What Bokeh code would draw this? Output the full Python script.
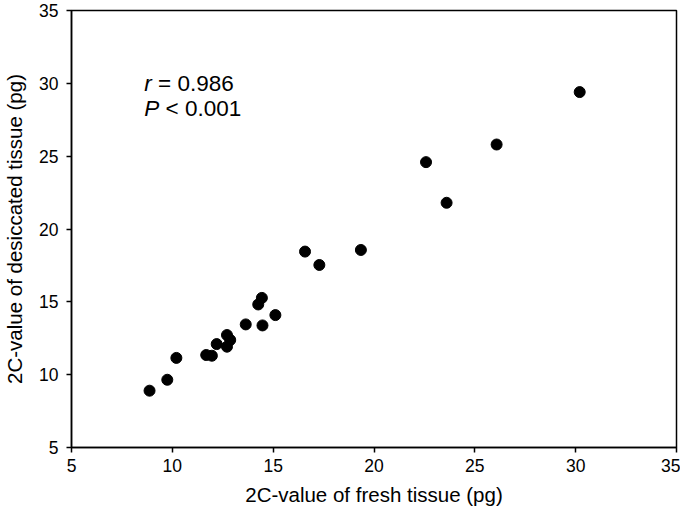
from bokeh.plotting import figure
from bokeh.models import ColumnDataSource, Range1d, FixedTicker
from bokeh.core.properties import value
from bokeh.embed import file_html
from bokeh.resources import INLINE

fresh = [8.87, 9.75, 10.2, 11.68, 11.96, 12.2, 12.71, 12.87, 12.71, 13.64,
         14.26, 14.44, 14.47, 15.11, 16.58, 17.29, 19.35, 22.58, 23.6, 26.08, 30.2]
desiccated = [8.9, 9.65, 11.15, 11.35, 11.3, 12.1, 12.72, 12.38, 11.92, 13.45,
              14.82, 15.27, 13.38, 14.09, 18.45, 17.53, 18.56, 24.59, 21.8, 25.8, 29.4]
ticks = [5, 10, 15, 20, 25, 30, 35]

FONT = "Liberation Sans"
NB = "\u00a0"

p = figure(width=680, height=508, output_backend="svg", toolbar_location=None,
           x_range=Range1d(5, 35), y_range=Range1d(5, 35),
           min_border_left=64, min_border_right=4, min_border_top=10, min_border_bottom=61)
p.background_fill_color = "white"
p.border_fill_color = "white"
p.grid.visible = False
p.outline_line_color = "black"
p.outline_line_width = 1.5

src = ColumnDataSource(dict(x=fresh, y=desiccated))
p.scatter("x", "y", source=src, size=11, color="black")

for ax in (p.xaxis, p.yaxis):
    ax.ticker = FixedTicker(ticks=ticks)
    ax.minor_tick_line_color = None
    ax.major_tick_in = 0
    ax.major_tick_out = 5
    ax.major_tick_line_width = 1.5
    ax.axis_line_width = 1.5
    ax.axis_line_color = "black"
    ax.major_tick_line_color = "black"
    ax.major_label_text_font = FONT
    ax.major_label_text_font_size = "17.5px"
    ax.major_label_text_color = "black"
    ax.axis_label_text_font = FONT
    ax.axis_label_text_font_size = "20.5px"
    ax.axis_label_text_font_style = "normal"
    ax.axis_label_text_color = "black"

p.xaxis.axis_label = "2C-value of fresh tissue (pg)"
p.yaxis.axis_label = "2C-value of desiccated tissue (pg)"
p.xaxis.axis_label_standoff = 8
p.yaxis.axis_label_standoff = 10
p.xaxis.major_label_standoff = 6
p.yaxis.major_label_standoff = 8

# annotation
ann_x = [8.61]
FS = "22.5px"
p.text(x=ann_x, y=[30.0], text=["r"], text_font=value(FONT), text_font_size=FS,
       text_font_style="italic", text_baseline="middle", text_align="left", color="black")
p.text(x=ann_x, y=[30.0], text=[NB + "= 0.986"], x_offset=7.5, text_font=value(FONT),
       text_font_size=FS, text_baseline="middle", text_align="left", color="black")
p.text(x=ann_x, y=[28.25], text=["P"], text_font=value(FONT), text_font_size=FS,
       text_font_style="italic", text_baseline="middle", text_align="left", color="black")
p.text(x=ann_x, y=[28.25], text=[NB + "< 0.001"], x_offset=15, text_font=value(FONT),
       text_font_size=FS, text_baseline="middle", text_align="left", color="black")

open("out.html", "w").write(file_html(p, INLINE))
